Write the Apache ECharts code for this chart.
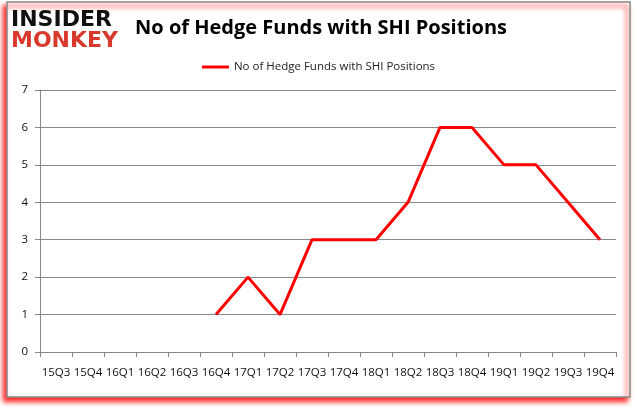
<!DOCTYPE html>
<html><head><meta charset="utf-8">
<script src="https://cdn.jsdelivr.net/npm/echarts@6/dist/echarts.min.js"></script>
<style>html,body{margin:0;padding:0;background:#fff}#c{width:637px;height:408px}</style>
</head><body><div id="c"></div>
<script>
var categories = ['15Q3','15Q4','16Q1','16Q2','16Q3','16Q4','17Q1','17Q2','17Q3','17Q4','18Q1','18Q2','18Q3','18Q4','19Q1','19Q2','19Q3','19Q4'];
var hedgeFunds = [null,null,null,null,null,1,2,1,3,3,3,4,6,6,5,5,4,3];
var seriesName = 'No of Hedge Funds with SHI Positions';
var titleText = 'No of Hedge Funds with SHI Positions';

var chart = echarts.init(document.getElementById('c'));
chart.setOption({
  animation: false,
  backgroundColor: '#fff',
  graphic: [
    {type:'rect', shape:{x:7,y:2,width:623,height:395}, z:-10,
     style:{fill:'#fff', stroke:'#8a8a8a', lineWidth:1.5, shadowColor:'rgba(255,0,0,0.9)', shadowBlur:5, shadowOffsetX:-3, shadowOffsetY:4}},
    {type:'text', left:11, top:9, style:{text:'INSIDER', fill:'#111', font:'900 22px "DejaVu Sans"'}, z:10},
    {type:'text', left:11, top:30, style:{text:'MONKEY', fill:'#d9392c', font:'900 22px "DejaVu Sans"'}, z:10}
  ],
  title: {text: titleText, left: 316, textAlign:'center', top: 13,
    textStyle:{fontFamily:'"Open Sans", Arial, sans-serif', fontWeight:'bold', fontSize:20, color:'#000'}},
  legend: {top: 56, left: 'center', data:[seriesName], itemWidth:27, itemHeight:3, icon:'rect', itemGap:5,
    textStyle:{fontFamily:'"Open Sans", sans-serif', fontSize:11.5, color:'#222'}},
  grid: {left:40, right:21, top:90, bottom:56, containLabel:false},
  xAxis: {type:'category', data:categories, boundaryGap:true,
    axisLine:{lineStyle:{color:'#888'}}, axisTick:{show:true, alignWithLabel:false, lineStyle:{color:'#888'}},
    axisLabel:{color:'#111', fontSize:11.5, margin:15, interval:0, fontFamily:'"Open Sans", sans-serif'}},
  yAxis: {type:'value', min:0, max:7, interval:1,
    axisLine:{show:true, lineStyle:{color:'#888'}}, axisTick:{show:true, lineStyle:{color:'#888'}},
    splitLine:{lineStyle:{color:'#888', width:1}},
    axisLabel:{color:'#111', fontSize:11.5, margin:12, fontFamily:'"Open Sans", sans-serif'}},
  series: [{name:seriesName, type:'line', data:hedgeFunds, showSymbol:false, symbol:'none',
    lineStyle:{color:'#ff0000', width:3}, itemStyle:{color:'#ff0000'}, connectNulls:false}]
});
</script></body></html>
